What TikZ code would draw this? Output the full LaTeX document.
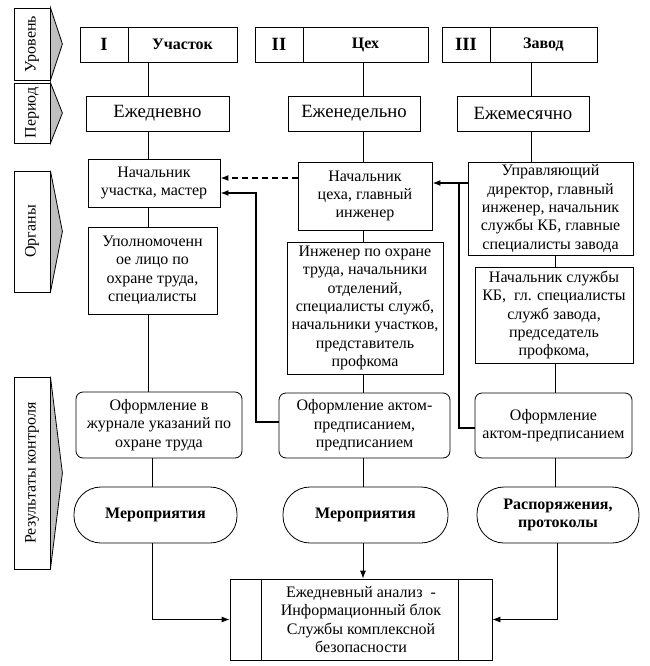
\documentclass[tikz,border=0pt]{standalone}
\usepackage{fontspec}
\setmainfont{Liberation Serif}
\usetikzlibrary{arrows.meta,calc}
\newcommand\ftxt{\fontsize{16}{18.4}\selectfont}
\newcommand\fbig{\fontsize{18.7}{21}\selectfont}
\definecolor{lgray}{RGB}{192,192,192}
\begin{document}
\begin{tikzpicture}[x=1pt,y=-1pt,
  box/.style={draw, line width=0.8pt, align=center, inner sep=1pt, font=\ftxt},
  rbox/.style={box, rounded corners=7pt},
  sbox/.style={box, rounded corners=27pt, font=\ftxt\bfseries},
  lbl/.style={box, minimum width=36pt},
  ln/.style={line width=0.8pt},
  arr/.style={ln, -{Latex[length=8pt,width=6pt]}},
  thk/.style={line width=1.6pt},
  thkarr/.style={thk, -{Latex[length=8pt,width=6pt]}},
  dsh/.style={line width=1.3pt, dash pattern=on 6pt off 4pt, -{Latex[length=8pt,width=6pt]}}
]
\useasboundingbox (0,0) rectangle (649,666);
\fill[white] (0,0) rectangle (649,666);

% left labels
\node[lbl, minimum height=72pt] (L1) at (32,44) {\rotatebox{90}{Уровень}};
\node[lbl, minimum height=60pt] (L2) at (32,113) {\rotatebox{90}{Период}};
\node[lbl, minimum height=121pt] (L3) at (32,231.5) {\rotatebox{90}{Органы}};
\node[lbl, minimum height=192pt] (L4) at (32,473) {\rotatebox{90}{Результаты контроля}};
\foreach \n in {L1,L2,L3,L4}{
  \filldraw[ln, fill=lgray] (\n.north east) -- ($(\n.east)+(12,0)$) -- (\n.south east) -- cycle;
}

% top level boxes
\node[box, minimum width=48pt, minimum height=35pt, font=\fbig\bfseries] (t1a) at (104,44.5) {I};
\node[box, minimum width=109pt, minimum height=35pt, font=\ftxt\bfseries] (t1b) at (182.5,44.5) {Участок};
\node[box, minimum width=48pt, minimum height=35pt, font=\fbig\bfseries] (t2a) at (279,44.5) {II};
\node[box, minimum width=125pt, minimum height=35pt, font=\ftxt\bfseries] (t2b) at (365.5,44.5) {Цех};
\node[box, minimum width=48pt, minimum height=35pt, font=\fbig\bfseries] (t3a) at (466,44.5) {III};
\node[box, minimum width=107pt, minimum height=35pt, font=\ftxt\bfseries] (t3b) at (543.5,44.5) {Завод};

% period boxes
\node[box, minimum width=143pt, minimum height=35pt, font=\fbig] (p1) at (157.5,113.5) {Ежедневно};
\node[box, minimum width=132pt, minimum height=35pt, font=\fbig] (p2) at (354,113.5) {Еженедельно};
\node[box, minimum width=132pt, minimum height=35pt, font=\fbig] (p3) at (523,113.5) {Ежемесячно};

% organ boxes row 1
\node[box, minimum width=132pt, minimum height=48pt] (o1) at (154,183) {Начальник\\участка, мастер};
\node[box, minimum width=134pt, minimum height=68pt] (o2) at (365,196) {Начальник\\цеха, главный\\инженер};
\node[box, minimum width=165pt, minimum height=93pt] (o3) at (550.5,208.5) {Управляющий\\директор, главный\\инженер, начальник\\службы КБ, главные\\специалисты завода};

% organ boxes row 2
\node[box, minimum width=129pt, minimum height=87pt] (q1) at (152.5,270.5) {Уполномоченн\\ое лицо по\\охране труда,\\специалисты};
\node[box, minimum width=156pt, minimum height=132pt] (q2) at (365,308) {Инженер по охране\\труда, начальники\\отделений,\\специалисты служб,\\начальники участков,\\представитель\\профкома};
\node[box, minimum width=158pt, minimum height=96pt] (q3) at (554,315) {Начальник службы\\КБ,\ \ гл. специалисты\\служб завода,\\председатель\\профкома,};

% results
\node[rbox, minimum width=166pt, minimum height=66pt] (r1) at (159,425) {Оформление в\\журнале указаний по\\охране труда};
\node[rbox, minimum width=171pt, minimum height=65pt] (r2) at (364.5,425.5) {Оформление актом-\\предписанием,\\предписанием};
\node[rbox, minimum width=157pt, minimum height=65pt] (r3) at (553.5,425.5) {Оформление\\актом-предписанием};

% stadiums
\node[sbox, minimum width=163pt, minimum height=56pt] (s1) at (155.5,515) {Мероприятия};
\node[sbox, minimum width=165pt, minimum height=56pt] (s2) at (365.5,515) {Мероприятия};
\node[sbox, minimum width=162pt, minimum height=56pt] (s3) at (558,515) {Распоряжения,\\протоколы};

% bottom box
\node[box, minimum width=262pt, minimum height=81pt] (b) at (361,619.5) {Ежедневный анализ\ \ -\\Информационный блок\\Службы комплексной\\безопасности};
\draw[ln] ([xshift=32pt]b.north west) -- ([xshift=32pt]b.south west);
\draw[ln] ([xshift=-34pt]b.north east) -- ([xshift=-34pt]b.south east);

% column coordinates
\coordinate (c1) at (148,0);
\coordinate (c1b) at (152,0);
\coordinate (c2) at (363,0);
\coordinate (c3) at (531,0);
\coordinate (c3b) at (555,0);
\coordinate (c3c) at (557,0);

% vertical connectors
\draw[ln] (t1b.south -| c1) -- (p1.north -| c1);
\draw[ln] (p1.south -| c1) -- (o1.north -| c1);
\draw[ln] (o1.south -| c1) -- (q1.north -| c1);
\draw[ln] (q1.south -| c1) -- (r1.north -| c1);
\draw[ln] (r1.south -| c1b) -- (s1.north -| c1b);
\draw[arr] (s1.south -| c1b) |- (b.west);

\draw[ln] (t2b.south -| c2) -- (p2.north -| c2);
\draw[ln] (p2.south -| c2) -- (o2.north -| c2);
\draw[ln] (o2.south -| c2) -- (q2.north -| c2);
\draw[ln] (q2.south -| c2) -- (r2.north -| c2);
\draw[ln] (r2.south -| c2) -- (s2.north -| c2);
\draw[arr] (s2.south -| c2) -- (b.north -| c2);

\draw[ln] (t3b.south -| c3) -- (p3.north -| c3);
\draw[ln] (p3.south -| c3) -- (o3.north -| c3);
\draw[ln] (o3.south -| c3b) -- (q3.north -| c3b);
\draw[ln] (q3.south -| c3b) -- (r3.north -| c3b);
\draw[ln] (r3.south -| c3b) -- (s3.north -| c3b);
\draw[arr] (s3.south -| c3c) |- (b.east);

% feedback arrows
\coordinate (d) at (260,178);
\draw[dsh] (o2.west |- d) -- (o1.east |- d);

\coordinate (k1) at (256,422);
\coordinate (k2) at (256,193);
\draw[thkarr] (r2.west |- k1) -- (k1) -- (k2) -- (o1.east |- k2);

\coordinate (k3) at (459,428);
\coordinate (k4) at (459,183);
\draw[thk] (r3.west |- k3) -- (k3) -- (k4);
\draw[thkarr] (o3.west |- k4) -- (o2.east |- k4);
\end{tikzpicture}
\end{document}
